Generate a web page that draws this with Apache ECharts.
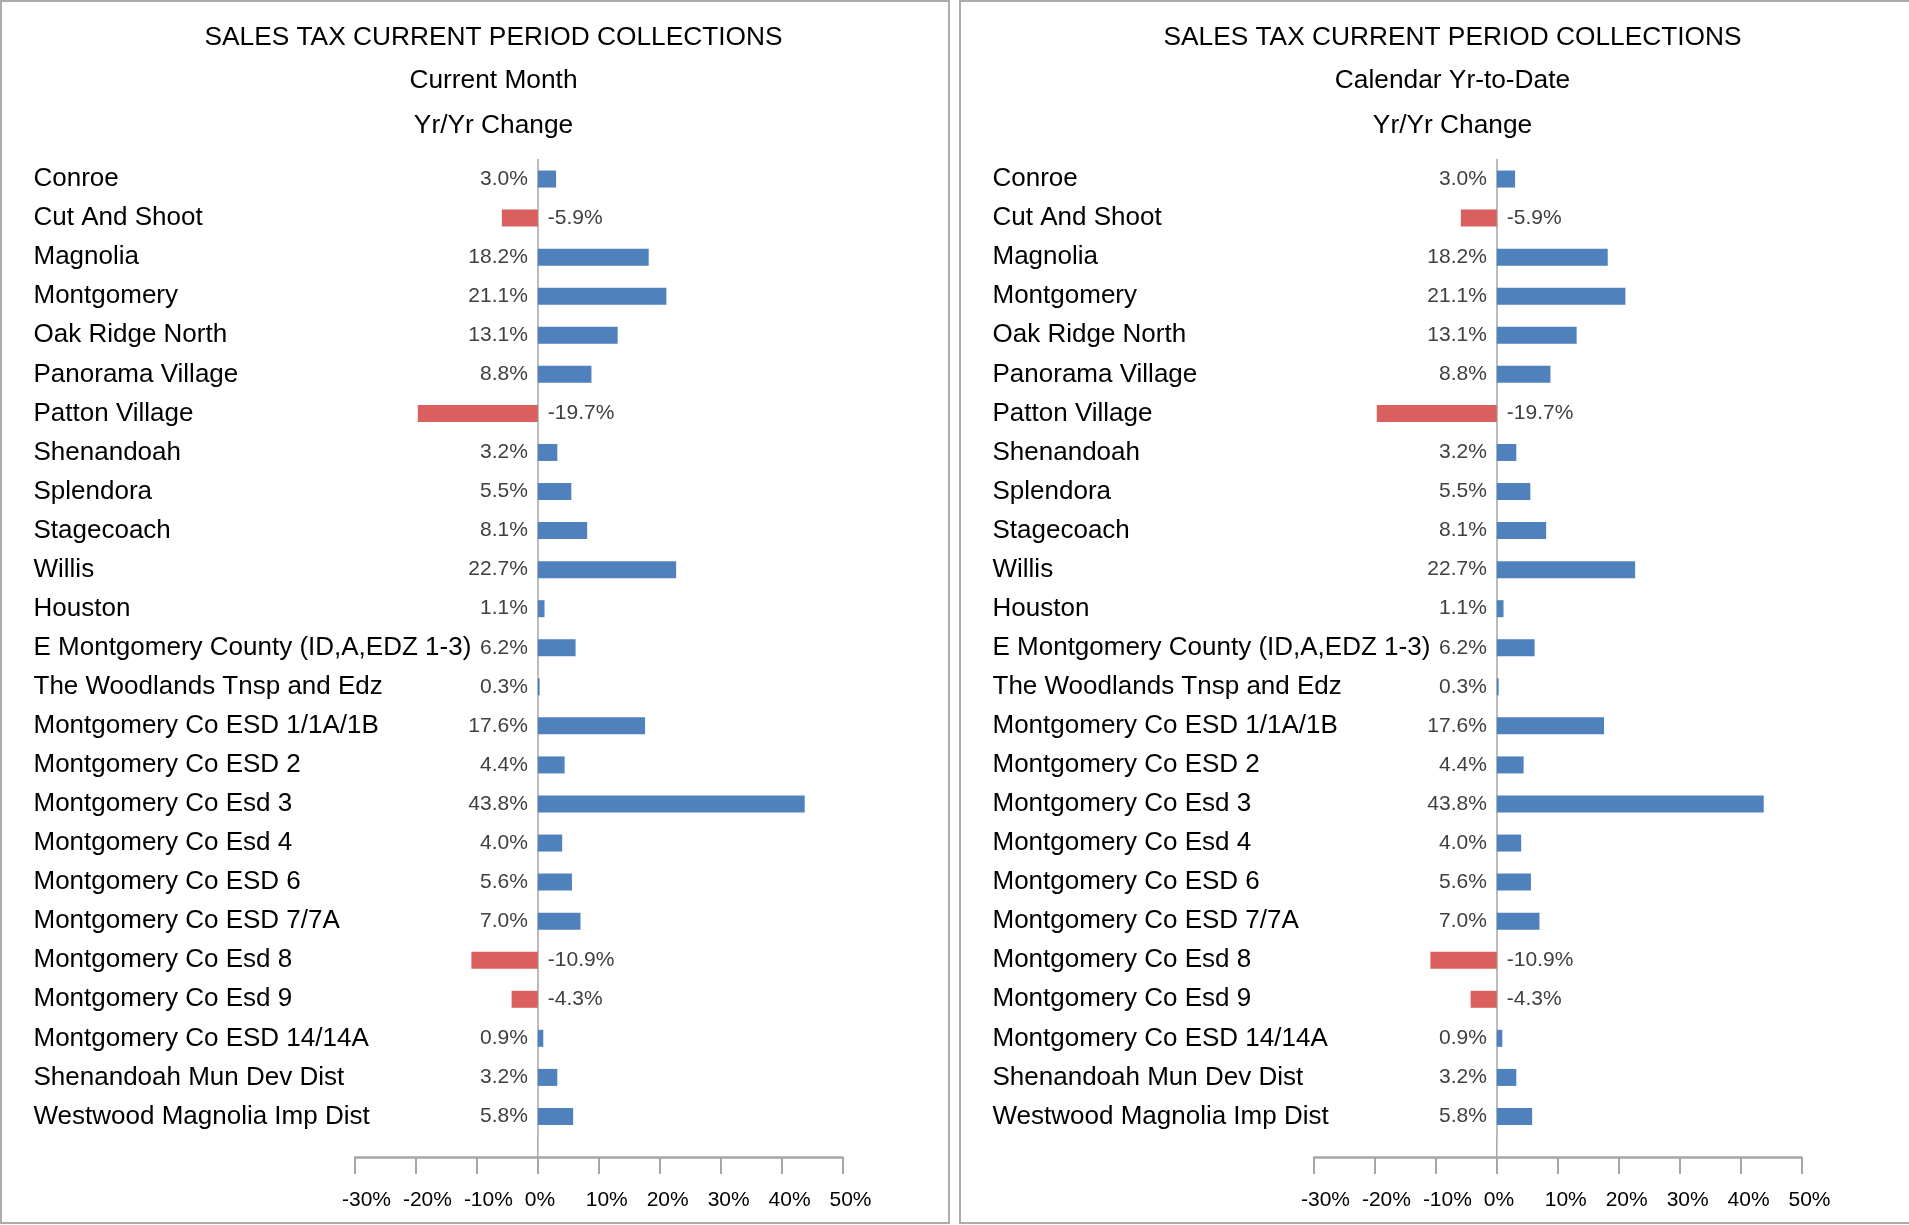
<!DOCTYPE html>
<html>
<head>
<meta charset="utf-8">
<script src="https://cdn.jsdelivr.net/npm/echarts@6/dist/echarts.min.js"></script>
<style>
  body { margin: 0; background: #fff; width: 1909px; height: 1225px; overflow: hidden; position: relative; }
  .panel { position: absolute; top: 0; height: 1220px; border: 2px solid #ababab; }
  #left { left: 0; width: 946px; }
  #right { left: 959px; width: 950px; }
</style>
</head>
<body>
<div id="left" class="panel"></div>
<div id="right" class="panel"></div>
<script>
const categories = [
  'Conroe', 'Cut And Shoot', 'Magnolia', 'Montgomery', 'Oak Ridge North',
  'Panorama Village', 'Patton Village', 'Shenandoah', 'Splendora', 'Stagecoach',
  'Willis', 'Houston', 'E Montgomery County (ID,A,EDZ 1-3)', 'The Woodlands Tnsp and Edz',
  'Montgomery Co ESD 1/1A/1B', 'Montgomery Co ESD 2', 'Montgomery Co Esd 3',
  'Montgomery Co Esd 4', 'Montgomery Co ESD 6', 'Montgomery Co ESD 7/7A',
  'Montgomery Co Esd 8', 'Montgomery Co Esd 9', 'Montgomery Co ESD 14/14A',
  'Shenandoah Mun Dev Dist', 'Westwood Magnolia Imp Dist',
]
const monthChange = [3.0, -5.9, 18.2, 21.1, 13.1, 8.8, -19.7, 3.2, 5.5, 8.1, 22.7, 1.1, 6.2, 0.3, 17.6, 4.4, 43.8, 4.0, 5.6, 7.0, -10.9, -4.3, 0.9, 3.2, 5.8]
const ytdChange = [3.0, -5.9, 18.2, 21.1, 13.1, 8.8, -19.7, 3.2, 5.5, 8.1, 22.7, 1.1, 6.2, 0.3, 17.6, 4.4, 43.8, 4.0, 5.6, 7.0, -10.9, -4.3, 0.9, 3.2, 5.8]
const xMin = -30
const xMax = 50
const xStep = 10
const mainTitle = 'SALES TAX CURRENT PERIOD COLLECTIONS'
const changeTitle = 'Yr/Yr Change'

const FONT = '"Liberation Sans", Arial, Helvetica, sans-serif'
const GRID = { left: 353, top: 157.5, width: 487.5, height: 976.5 }
const AXIS_OFFSET = 21

function getOption(subTitle, values) {
  const titleLines = [mainTitle, subTitle, changeTitle]
  const titleY = [35.5, 78.5, 123.5]
  return {
    animation: false,
    textStyle: { fontFamily: FONT },
    grid: { ...GRID, containLabel: false, outerBoundsMode: 'none' },
    graphic: {
      elements: titleLines.map((t, i) => ({
        id: 'title' + i,
        type: 'text',
        x: 491.5,
        y: titleY[i],
        style: {
          text: t,
          fill: '#000',
          font: '26.3px ' + FONT,
          align: 'center',
          verticalAlign: 'middle',
        },
      })),
    },
    xAxis: {
      type: 'value',
      min: xMin,
      max: xMax,
      interval: xStep,
      offset: AXIS_OFFSET,
      splitLine: { show: false },
      axisLine: { show: true, onZero: false, lineStyle: { color: '#a6a6a6', width: 2.5 } },
      axisTick: { show: true, length: 17, lineStyle: { color: '#a6a6a6', width: 2 } },
      axisLabel: {
        color: '#000',
        fontSize: 21,
        fontFamily: FONT,
        margin: 33,
        align: 'left',
        padding: [0, 0, 0, -13],
        showMinLabel: true,
        showMaxLabel: true,
        hideOverlap: false,
        formatter: '{value}%',
      },
    },
    yAxis: {
      type: 'category',
      inverse: true,
      data: categories,
      axisLine: { show: true, onZero: true, lineStyle: { color: '#a6a6a6', width: 1.5 } },
      axisTick: { show: false },
      axisLabel: {
        interval: 0,
        color: '#000',
        fontSize: 26,
        fontFamily: FONT,
        align: 'left',
        margin: 321.5,
      },
    },
    series: [{
      type: 'bar',
      barWidth: 17,
      data: values.map(v => ({
        value: v,
        itemStyle: { color: v < 0 ? '#d9605e' : '#4f81bd' },
        label: { position: v < 0 ? 'right' : 'left' },
      })),
      label: {
        show: true,
        distance: 10,
        color: '#404040',
        fontSize: 21,
        fontFamily: FONT,
        formatter: p => p.value.toFixed(1) + '%',
      },
    }],
  }
}

function drawPanel(el, subTitle, values) {
  const chart = echarts.init(el, null, { renderer: 'canvas' })
  chart.setOption(getOption(subTitle, values))
  // zero line continues down to the offset value axis
  const x0 = chart.convertToPixel({ xAxisIndex: 0 }, 0)
  const yBottom = GRID.top + GRID.height
  chart.setOption({
    graphic: {
      elements: [{
        id: 'zeroExt',
        type: 'line',
        shape: { x1: x0, y1: yBottom, x2: x0, y2: yBottom + AXIS_OFFSET },
        style: { stroke: '#a6a6a6', lineWidth: 1.5 },
      }],
    },
  })
  return chart
}

drawPanel(document.getElementById('left'), 'Current Month', monthChange)
drawPanel(document.getElementById('right'), 'Calendar Yr-to-Date', ytdChange)
</script>
</body>
</html>
